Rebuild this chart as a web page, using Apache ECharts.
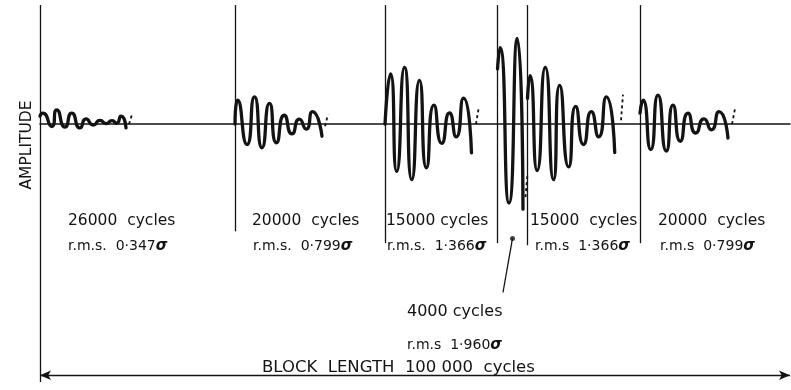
<!DOCTYPE html>
<html><head><meta charset="utf-8">
<script src="https://cdn.jsdelivr.net/npm/echarts@6/dist/echarts.min.js"></script>
<style>html,body{margin:0;padding:0;background:#fff}#c{width:791px;height:390px}</style>
</head><body><div id="c"></div>
<script>
// Block lengths (cycles)
const blockCycles = [26000, 20000, 15000, 4000, 15000, 20000];
const cycleLabels = ['26000  cycles', '20000  cycles', '15000 cycles', '4000 cycles', '15000  cycles', '20000  cycles'];
const rmsPrefix = ['r.m.s.  0·347', 'r.m.s.  0·799', 'r.m.s.  1·366', 'r.m.s  1·960', 'r.m.s  1·366', 'r.m.s  0·799'];
const blockTitle = 'BLOCK  LENGTH  100 000  cycles';
const axisTitle = 'AMPLITUDE';

// Waveform extrema per block: [offset within block (thousand cycles), amplitude]
const wave1 = [[0,0.27],[0.36,0.37],[1.56,-0.08],[2.23,0.48],[3.33,-0.10],[4.23,0.37],[5.33,-0.13],[6.13,0.18],[7.11,-0.03],[8.0,0.13],[8.8,0.02],[9.6,0.12],[10.2,0.03],[10.8,0.27],[11.47,-0.13]];
const wave2 = [[0,0],[0.36,0.81],[1.6,-0.69],[2.6,0.92],[3.6,-0.8],[4.6,0.7],[5.53,-0.63],[6.57,0.3],[7.6,-0.33],[8.57,0.17],[9.49,-0.17],[10.33,0.42],[11.6,-0.41]];
const wave3 = [[0,0],[0.73,1.7],[1.56,-1.6],[2.6,1.92],[3.57,-1.88],[4.6,1.48],[5.53,-1.48],[6.53,0.64],[7.57,-0.65],[8.6,0.38],[9.49,-0.43],[10.47,0.88],[11.53,-0.97]];
const wave4 = [[0,1.87],[0.33,2.59],[1.53,-2.67],[2.64,2.9],[3.4,-2.88]];
const wave5 = [[0,0.87],[0.33,1.64],[1.29,-1.57],[2.37,1.92],[3.47,-1.88],[4.29,1.31],[5.49,-1.45],[6.43,0.6],[7.47,-0.69],[8.51,0.42],[9.49,-0.43],[10.51,0.92],[11.63,-0.96]];
const wave6 = [[0,0.37],[0.4,0.81],[1.43,-0.86],[2.4,0.98],[3.51,-0.91],[4.4,0.64],[5.37,-0.58],[6.4,0.37],[7.43,-0.3],[8.53,0.18],[9.51,-0.19],[10.53,0.42],[11.73,-0.47]];
const waves = [wave1, wave2, wave3, wave4, wave5, wave6];
// Broken continuation strokes at the end of each block
const dashes = [
  [[11.87,0],[12.27,0.33]],
  [[12.0,-0.07],[12.4,0.33]],
  [[12.13,0],[12.53,0.6]],
  [[3.73,-2.47],[4.0,-1.7]],
  [[12.47,0.13],[12.73,1.0]],
  [[12.27,0],[12.67,0.53]]
];
// Divider lines: lower end (amplitude units) for each block boundary
const dividerBottom = [-8.73, -3.63, -4.03, -4.03, -4.1, -4.03];
const dividerTop = 4.03;
const arrowLevel = -8.5;
const pointer = [[63, -3.87], [61.73, -5.7]];

const ink = '#131313';
const starts = [];
let acc = 0;
blockCycles.forEach(c => { starts.push(acc / 1000); acc += c; });
const total = acc / 1000;

const series = [];
waves.forEach((w, i) => {
  series.push({
    type: 'line', smooth: 0.7, symbol: 'none', clip: false,
    lineStyle: { color: ink, width: 3.3, cap: 'round', join: 'round' },
    data: w.map(p => [starts[i] + p[0], p[1]])
  });
  series.push({
    type: 'line', symbol: 'none', clip: false,
    lineStyle: { color: ink, width: 1.8, type: [3, 3] },
    data: dashes[i].map(p => [starts[i] + p[0], p[1]])
  });
});
series.push({
  type: 'line', data: [], silent: true,
  markLine: {
    silent: true, animation: false, symbol: 'none', label: { show: false },
    lineStyle: { color: ink, width: 1.3, type: 'solid' },
    data: starts.map((s, i) => [{ coord: [s, dividerTop] }, { coord: [s, dividerBottom[i]] }])
      .concat([[{ coord: [0, arrowLevel], symbol: 'arrow', symbolSize: [7, 11] }, { coord: [total, arrowLevel], symbol: 'arrow', symbolSize: [7, 11] }]])
  }
});
series.push({
  type: 'line', symbol: 'none', clip: false,
  lineStyle: { color: ink, width: 1.3 }, data: pointer
});
series.push({
  type: 'scatter', symbolSize: 5, itemStyle: { color: ink }, data: [pointer[0]]
});

const font = 'DejaVu Sans';
// [x of cycles label, x of r.m.s. label]
const textPos = [[68, 68], [252, 253], [386, 387], [407, 407], [530, 535], [658, 660]];
const graphics = [];
cycleLabels.forEach((t, i) => {
  const special = i === 3;
  graphics.push({ type: 'text', x: textPos[i][0], y: special ? 312 : 221,
    style: { text: t, font: (special ? '16px' : '15.5px') + ' "' + font + '"', fill: ink, textVerticalAlign: 'middle' } });
  graphics.push({ type: 'text', x: textPos[i][1], y: special ? 345 : 246,
    style: { text: rmsPrefix[i] + '{s|σ}', font: '14px "' + font + '"', fill: ink, textVerticalAlign: 'middle',
      rich: { s: { fontStyle: 'italic', fontWeight: 'bold', fontSize: 15, fontFamily: font, fill: ink } } } });
});
graphics.push({ type: 'text', x: 262, y: 368, style: { text: blockTitle, font: '16.5px "' + font + '"', fill: ink, textVerticalAlign: 'middle' } });
graphics.push({ type: 'text', x: 27, y: 145, rotation: Math.PI / 2, style: { text: axisTitle, font: '15.5px "' + font + '"', fill: ink, textAlign: 'center', textVerticalAlign: 'middle' } });

const chart = echarts.init(document.getElementById('c'), null, { renderer: 'canvas' });
chart.setOption({
  animation: false,
  backgroundColor: '#ffffff',
  grid: { left: 40, width: 750, top: 3, height: 393 },
  xAxis: { type: 'value', min: 0, max: total, axisLine: { onZero: true, lineStyle: { color: ink, width: 1.5 } },
    axisTick: { show: false }, axisLabel: { show: false }, splitLine: { show: false } },
  yAxis: { type: 'value', min: -9, max: 4.1, show: false, splitLine: { show: false } },
  series: series,
  graphic: graphics
});
</script></body></html>
